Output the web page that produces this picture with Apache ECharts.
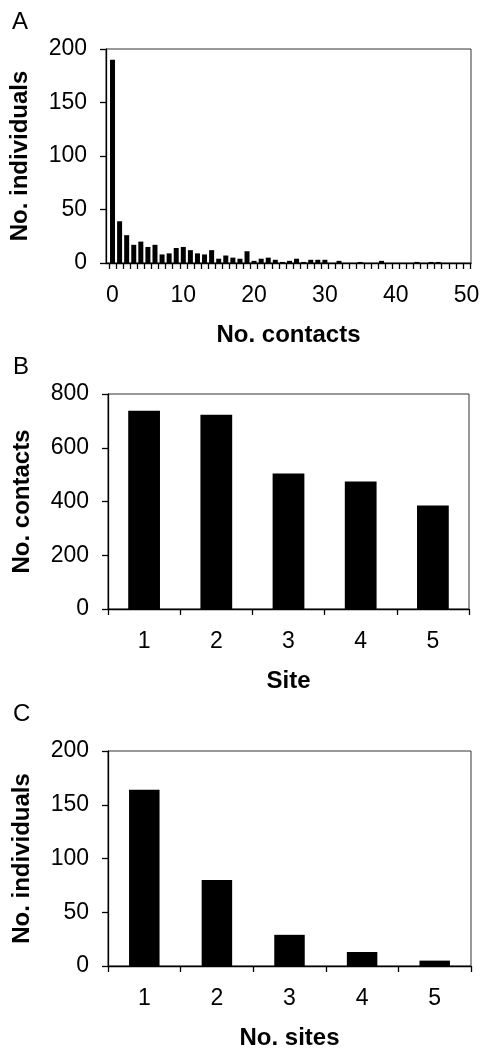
<!DOCTYPE html>
<html><head><meta charset="utf-8">
<script src="https://cdn.jsdelivr.net/npm/echarts@6/dist/echarts.min.js"></script>
<style>html,body{margin:0;padding:0;background:#fff}#c{width:483px;height:1051px}</style>
</head><body><div id="c"></div>
<script>
// Panel A: distribution of number of contacts
const contactCats = [0,1,2,3,4,5,6,7,8,9,10,11,12,13,14,15,16,17,18,19,20,21,22,23,24,25,26,27,28,29,30,31,32,33,34,35,36,37,38,39,40,41,42,43,44,45,46,47,48,49,50];
const contactIndividuals = [190,39,26,17,20,15,17,8,9,14,15,12,9,8,12,4,7,5,4,11,2,4,5,3,1,2,4,1,3,3,3,0,2,0,0,1,0,0,2,0,0,0,0,1,0,1,1,0,0,0,0];
const contactTickLabels = [0,10,20,30,40,50];
// Panel B: contacts per site
const siteCats = ['1','2','3','4','5'];
const siteContacts = [738,723,504,474,385];
// Panel C: number of sites visited
const nSitesCats = ['1','2','3','4','5'];
const nSitesIndividuals = [164,80,29,13,5];
// Y tick settings
const yTicksA = {min:0,max:200,interval:50};
const yTicksB = {min:0,max:800,interval:200};
const yTicksC = {min:0,max:200,interval:50};

const FONT = '"Liberation Sans", Arial, sans-serif';
const tickLabel = {color:'#000', fontSize:23, fontFamily:FONT};
const nameStyle = {color:'#000', fontSize:24, fontWeight:'bold', fontFamily:FONT};
const axisLine = {show:true, onZero:false, lineStyle:{color:'#000', width:1.3}};
const axisTick = {show:true, length:6, lineStyle:{color:'#000', width:1.3}};

// category boundaries for panel A ticks
const contactTickPos = contactCats.map(c => c - 0.5).concat([contactCats[contactCats.length-1] + 0.5]);
const contactData = contactCats.map((c, i) => [c, contactIndividuals[i]]);

function xCat(gi, cats, name){
  return {type:'category', gridIndex:gi, data:cats, name:name, nameLocation:'middle', nameGap:60,
    nameTextStyle:nameStyle, axisLine:axisLine,
    axisTick:Object.assign({}, axisTick, {interval:0, alignWithLabel:false}),
    axisLabel:Object.assign({}, tickLabel, {margin:21, interval:0}),
    splitLine:{show:false}};
}
function yAxis(gi, t, name){
  return {type:'value', gridIndex:gi, position:'left', min:t.min, max:t.max, interval:t.interval, name:name,
    nameLocation:'middle', nameGap:74, nameTextStyle:nameStyle, axisLine:axisLine, axisTick:axisTick,
    axisLabel:Object.assign({}, tickLabel, {margin:19}), splitLine:{show:false}};
}
const gridBase = {show:true, borderColor:'#333', borderWidth:1, backgroundColor:'transparent'};
const chart = echarts.init(document.getElementById('c'), null, {renderer:'canvas'});
chart.setOption({
  animation:false,
  backgroundColor:'#fff',
  grid:[
    Object.assign({left:106, top:49, width:365, height:214}, gridBase),
    Object.assign({left:108, top:394, width:361, height:215}, gridBase),
    Object.assign({left:108, top:751, width:363, height:215}, gridBase)
  ],
  xAxis:[
    {type:'value', gridIndex:0, position:'bottom', min:-0.92, max:50.64, name:'No. contacts', nameLocation:'middle', nameGap:60,
      nameTextStyle:nameStyle, axisLine:axisLine,
      axisTick:Object.assign({}, axisTick, {customValues:contactTickPos}),
      axisLabel:Object.assign({}, tickLabel, {margin:21, customValues:contactTickLabels}),
      splitLine:{show:false}},
    xCat(1, siteCats, 'Site'),
    xCat(2, nSitesCats, 'No. sites')
  ],
  yAxis:[
    yAxis(0, yTicksA, 'No. individuals'),
    yAxis(1, yTicksB, 'No. contacts'),
    yAxis(2, yTicksC, 'No. individuals')
  ],
  series:[
    {type:'bar', xAxisIndex:0, yAxisIndex:0, data:contactData, barWidth:5, itemStyle:{color:'#000'}},
    {type:'bar', xAxisIndex:1, yAxisIndex:1, data:siteContacts, barWidth:'44%', itemStyle:{color:'#000'}},
    {type:'bar', xAxisIndex:2, yAxisIndex:2, data:nSitesIndividuals, barWidth:'42%', itemStyle:{color:'#000'}}
  ],
  graphic:[
    {type:'text', left:12, top:10, style:{text:'A', fontSize:24, fontFamily:FONT, fill:'#000'}},
    {type:'text', left:13, top:355, style:{text:'B', fontSize:24, fontFamily:FONT, fill:'#000'}},
    {type:'text', left:13, top:702, style:{text:'C', fontSize:24, fontFamily:FONT, fill:'#000'}}
  ]
});
</script></body></html>
